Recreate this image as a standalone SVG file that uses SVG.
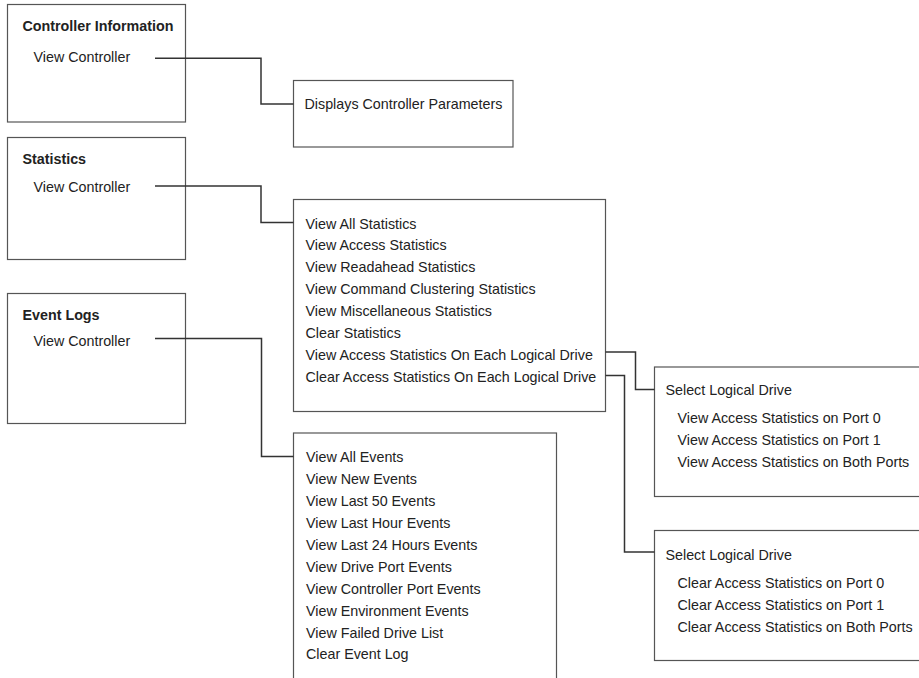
<svg xmlns="http://www.w3.org/2000/svg" width="919" height="678" viewBox="0 0 919 678">
<style>
.box{fill:#fff;stroke:#555;stroke-width:1.2}
.t{font-family:"Liberation Sans",Arial,sans-serif;font-size:14.3px;fill:#222}
.b{font-weight:bold}
.conn path{fill:none;stroke:#333;stroke-width:1.5}
</style>
<rect width="919" height="678" fill="#fff"/>
<g id="controller-info">
<rect class="box" x="7.5" y="4.5" width="178" height="117.5"/>
<text class="t b" x="22.5" y="30.5">Controller Information</text>
<text class="t" x="33.5" y="62">View Controller</text>
</g>
<g id="displays-params">
<rect class="box" x="293.5" y="80.5" width="219.5" height="66.5"/>
<text class="t" x="304.5" y="109">Displays Controller Parameters</text>
</g>
<g id="statistics">
<rect class="box" x="7.5" y="137.5" width="178" height="122"/>
<text class="t b" x="22.5" y="164">Statistics</text>
<text class="t" x="33.5" y="191.5">View Controller</text>
</g>
<g id="stats-menu">
<rect class="box" x="293.5" y="199.5" width="312" height="212"/>
<text class="t" x="305.5" y="228.5">View All Statistics</text>
<text class="t" x="305.5" y="250.4">View Access Statistics</text>
<text class="t" x="305.5" y="272.3">View Readahead Statistics</text>
<text class="t" x="305.5" y="294.2">View Command Clustering Statistics</text>
<text class="t" x="305.5" y="316.1">View Miscellaneous Statistics</text>
<text class="t" x="305.5" y="338">Clear Statistics</text>
<text class="t" x="305.5" y="359.9">View Access Statistics On Each Logical Drive</text>
<text class="t" x="305.5" y="381.8">Clear Access Statistics On Each Logical Drive</text>
</g>
<g id="event-logs">
<rect class="box" x="7.5" y="293.5" width="178" height="130"/>
<text class="t b" x="22.5" y="320">Event Logs</text>
<text class="t" x="33.5" y="346">View Controller</text>
</g>
<g id="events-menu">
<rect class="box" x="293.5" y="433" width="263" height="260"/>
<text class="t" x="306" y="462.3">View All Events</text>
<text class="t" x="306" y="484.2">View New Events</text>
<text class="t" x="306" y="506.1">View Last 50 Events</text>
<text class="t" x="306" y="528">View Last Hour Events</text>
<text class="t" x="306" y="549.9">View Last 24 Hours Events</text>
<text class="t" x="306" y="571.8">View Drive Port Events</text>
<text class="t" x="306" y="593.7">View Controller Port Events</text>
<text class="t" x="306" y="615.6">View Environment Events</text>
<text class="t" x="306" y="637.5">View Failed Drive List</text>
<text class="t" x="306" y="659.4">Clear Event Log</text>
</g>
<g id="view-drive">
<rect class="box" x="654.5" y="367" width="270" height="129.5"/>
<text class="t" x="665.5" y="395">Select Logical Drive</text>
<text class="t" x="677.5" y="423">View Access Statistics on Port 0</text>
<text class="t" x="677.5" y="444.8">View Access Statistics on Port 1</text>
<text class="t" x="677.5" y="466.6">View Access Statistics on Both Ports</text>
</g>
<g id="clear-drive">
<rect class="box" x="654.5" y="530.5" width="270" height="130"/>
<text class="t" x="665.5" y="559.5">Select Logical Drive</text>
<text class="t" x="677.5" y="588">Clear Access Statistics on Port 0</text>
<text class="t" x="677.5" y="609.8">Clear Access Statistics on Port 1</text>
<text class="t" x="677.5" y="631.6">Clear Access Statistics on Both Ports</text>
</g>
<g id="connectors" class="conn">
<path d="M155,58.3 H261 V104 H293.5"/>
<path d="M155,186 H261 V222.5 H293.5"/>
<path d="M155,338.5 H261.5 V456.5 H293.5"/>
<path d="M605.5,352 H635.5 V389.5 H654.5"/>
<path d="M605.5,375.5 H624.5 V552 H654.5"/>
</g>
</svg>
